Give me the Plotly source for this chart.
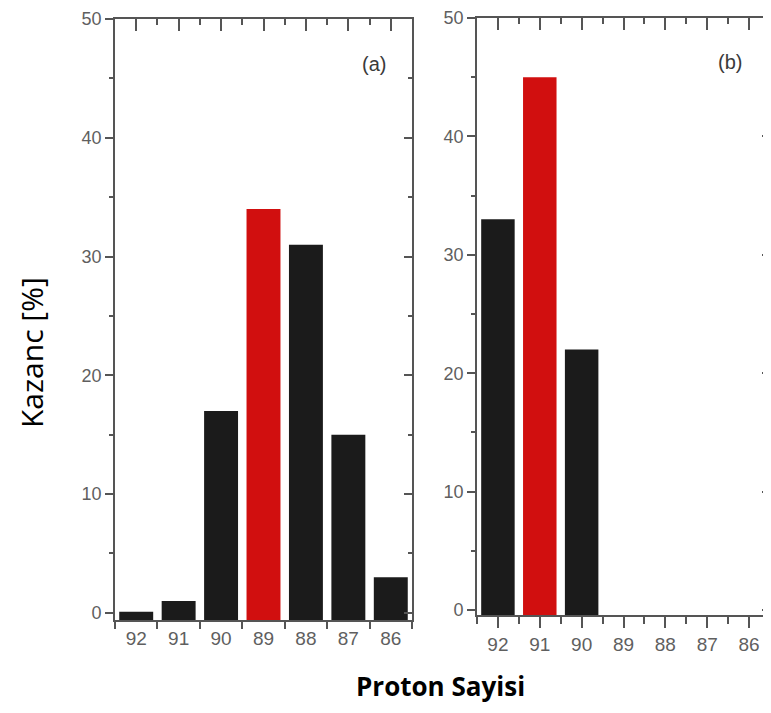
import plotly.graph_objects as go

categories = ["92", "91", "90", "89", "88", "87", "86"]
values_a = [0.1, 1, 17, 34, 31, 15, 3]
values_b = [33, 45, 22, None, None, None, None]
highlight_a = "89"
highlight_b = "91"
y_ticks = [0, 10, 20, 30, 40, 50]

BLACK = "#1b1b1b"
RED = "#d10f0f"
AX = "#555555"
YTICKF = dict(family="Liberation Sans, Arial", size=18, color="#5f5f5f")
XTICKF = dict(family="Liberation Sans, Arial", size=19, color="#5f5f5f")
LW = 1.8

ymin_a = -0.6
ymin_b = -0.42
ymax = 50.0001
n = len(categories)
xpos = list(range(n))


def bar_trace(vals, hl, ymin, xa, ya):
    xs = [i for i, v in zip(xpos, vals) if v is not None]
    vs = [v for v in vals if v is not None]
    return go.Bar(
        x=xs,
        y=[v - ymin for v in vs],
        base=[ymin] * len(vs),
        marker=dict(color=[RED if categories[i] == hl else BLACK for i in xs], line=dict(width=0)),
        width=0.8,
        xaxis=xa, yaxis=ya, showlegend=False, hoverinfo="skip",
    )


fig = go.Figure()
fig.add_trace(bar_trace(values_a, highlight_a, ymin_a, "x", "y"))
fig.add_trace(bar_trace(values_b, highlight_b, ymin_b, "x2", "y2"))

# page body has an 8px margin; figure size/positions compensate for it
OFF = 8
W, H = 771 - OFF, 713 - 2 * OFF
xr = [-0.5, n - 0.5]


def px_x(a, b):
    return [(a - OFF) / W, min(1.0, (b - OFF) / W)]


def px_y(top, bottom):
    return [1 - (bottom - OFF) / H, 1 - (top - OFF) / H]


dom_xa = px_x(115, 412)
dom_ya = px_y(19, 620)
dom_xb = px_x(477, 770)
dom_yb = px_y(18, 615)

base_axis = dict(showline=True, linecolor=AX, linewidth=LW, showgrid=False,
                 zeroline=False, automargin=False, fixedrange=True)


def bottom_x(dom, anchor, center_ticks):
    d = dict(base_axis, domain=dom, anchor=anchor, range=xr,
             tickmode="array", tickvals=xpos, ticktext=categories,
             tickfont=XTICKF, mirror=False, ticklabeloverflow="allow",
             minor=dict(tickmode="linear", tick0=0.5, dtick=1, ticks="outside",
                        ticklen=7, tickwidth=LW, tickcolor=AX))
    if center_ticks:
        d.update(ticks="outside", ticklen=11, tickwidth=LW, tickcolor=AX)
    else:
        d.update(ticks="")
    return d


def top_x(dom, anchor, overlay):
    return dict(base_axis, domain=dom, anchor=anchor, overlaying=overlay, side="top",
                range=xr, tickmode="linear", tick0=0, dtick=1, showticklabels=False,
                ticks="inside", ticklen=12, tickwidth=LW, tickcolor=AX,
                minor=dict(tickmode="linear", tick0=0.5, dtick=1, ticks="inside",
                           ticklen=6, tickwidth=LW, tickcolor=AX))


def left_y(dom, anchor, rng):
    return dict(base_axis, domain=dom, anchor=anchor, range=rng,
                tickmode="array", tickvals=y_ticks, tickfont=YTICKF,
                ticklabeloverflow="allow",
                ticks="outside", ticklen=8, tickwidth=LW, tickcolor=AX,
                minor=dict(tickmode="linear", tick0=0, dtick=5, ticks="outside",
                           ticklen=4, tickwidth=LW, tickcolor=AX))


def right_y(dom, anchor, overlay, rng):
    return dict(base_axis, domain=dom, anchor=anchor, overlaying=overlay, side="right",
                range=rng, tickmode="array", tickvals=y_ticks, showticklabels=False,
                ticks="inside", ticklen=8, tickwidth=LW, tickcolor=AX,
                minor=dict(tickmode="linear", tick0=0, dtick=5, ticks="inside",
                           ticklen=4, tickwidth=LW, tickcolor=AX))


fig.add_trace(go.Scatter(x=[None], y=[None], xaxis="x3", yaxis="y3", showlegend=False, hoverinfo="skip"))
fig.add_trace(go.Scatter(x=[None], y=[None], xaxis="x4", yaxis="y4", showlegend=False, hoverinfo="skip"))

ann_font = dict(family="Liberation Sans, Arial", size=20, color="#3a3a3a")


def ax_(x):
    return (x - OFF) / W


def ay_(y):
    return 1 - (y - OFF) / H


fig.update_layout(
    width=W, height=H, autosize=False,
    margin=dict(l=0, r=0, t=0, b=0, pad=0),
    paper_bgcolor="white", plot_bgcolor="rgba(0,0,0,0)",
    bargap=0.2,
    xaxis=bottom_x(dom_xa, "y", False),
    yaxis=left_y(dom_ya, "x", [ymin_a, ymax]),
    xaxis2=bottom_x(dom_xb, "y2", True),
    yaxis2=left_y(dom_yb, "x2", [ymin_b, ymax]),
    xaxis3=top_x(dom_xa, "y3", "x"),
    yaxis3=right_y(dom_ya, "x3", "y", [ymin_a, ymax]),
    xaxis4=top_x(dom_xb, "y4", "x2"),
    yaxis4=right_y(dom_yb, "x4", "y2", [ymin_b, ymax]),
    annotations=[
        dict(text="(a)", x=ax_(374), y=ay_(64), xref="paper", yref="paper",
             xanchor="center", yanchor="middle", showarrow=False, font=ann_font),
        dict(text="(b)", x=ax_(730), y=ay_(62), xref="paper", yref="paper",
             xanchor="center", yanchor="middle", showarrow=False, font=ann_font),
        dict(text="Kazanc [%]", x=ax_(31), y=ay_(353), xref="paper", yref="paper",
             xanchor="center", yanchor="middle", textangle=-90, showarrow=False,
             font=dict(family="Open Sans, Noto Sans", size=30, color="black")),
        dict(text="<b>Proton Sayisi</b>", x=ax_(440), y=ay_(686), xref="paper", yref="paper",
             xanchor="center", yanchor="middle", showarrow=False,
             font=dict(family="Open Sans, Noto Sans", size=26, color="black")),
    ],
)

fig.write_html("out.html")
